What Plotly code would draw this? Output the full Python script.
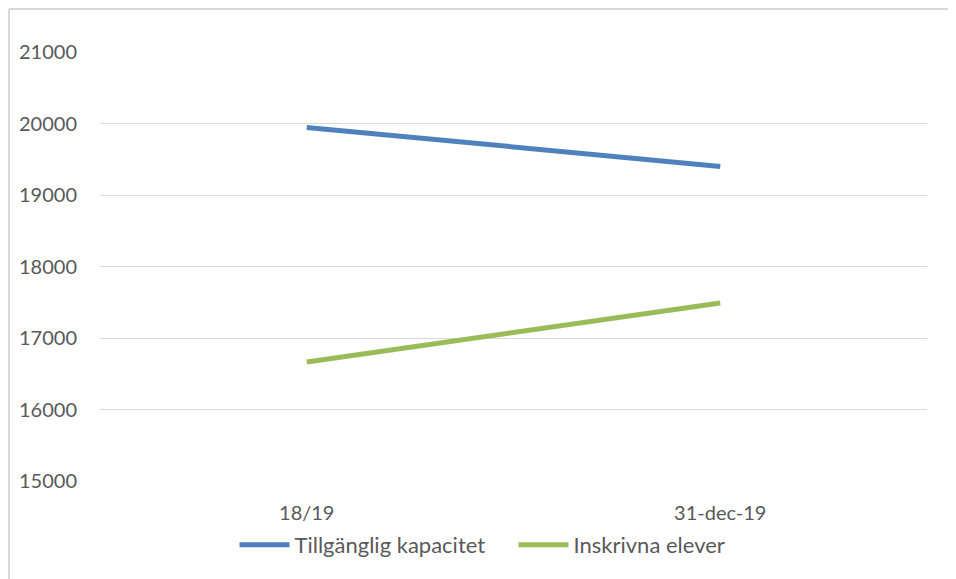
import plotly.graph_objects as go

# Data
categories = ['18/19', '31-dec-19']
kapacitet = [19945, 19400]
elever = [16665, 17490]
y_ticks = [15000, 16000, 17000, 18000, 19000, 20000, 21000]

font_family = 'Lato, Carlito, Liberation Sans, sans-serif'
text_color = '#595959'
border_color = '#d9d9d9'

fig = go.Figure()

fig.add_trace(go.Scatter(x=categories, y=kapacitet,
                         mode='lines',
                         name='Tillgänglig kapacitet',
                         line=dict(color='#4F81BD', width=5)))

fig.add_trace(go.Scatter(x=categories, y=elever,
                         mode='lines',
                         name='Inskrivna elever',
                         line=dict(color='#9BBB59', width=5)))

# Chart area border: only the left and top edges are visible in the picture
left = -91 / 827
top = 1 + 43 / 429
fig.add_shape(type='line', xref='paper', yref='paper',
              x0=left, x1=left, y0=-0.3, y1=top,
              line=dict(color=border_color, width=2), layer='below')
fig.add_shape(type='line', xref='paper', yref='paper',
              x0=left, x1=1.1, y0=top, y1=top,
              line=dict(color=border_color, width=2), layer='below')

fig.update_layout(
    width=948, height=571,
    margin=dict(l=92, r=29, t=44, b=98),
    paper_bgcolor='white',
    plot_bgcolor='white',
    font=dict(family=font_family, size=20, color=text_color),
    xaxis=dict(
        type='category',
        range=[-0.5, 1.5],
        showgrid=False,
        showline=False,
        zeroline=False,
        ticks='',
        tickfont=dict(size=20, color=text_color),
        ticklabelstandoff=18,
    ),
    yaxis=dict(
        range=[15000, 21000],
        tickvals=y_ticks,
        ticktext=[str(v) for v in y_ticks],
        showgrid=True,
        gridcolor=border_color,
        gridwidth=1,
        zeroline=False,
        showline=False,
        ticks='',
        tickfont=dict(size=20, color=text_color),
        ticklabelstandoff=22,
    ),
    legend=dict(
        orientation='h',
        x=0.5, xanchor='center',
        y=-0.1, yanchor='top',
        font=dict(size=22, color=text_color),
        itemwidth=50,
        entrywidth=214,
        bgcolor='rgba(0,0,0,0)',
    ),
    showlegend=True,
)

fig.write_html("out.html")
